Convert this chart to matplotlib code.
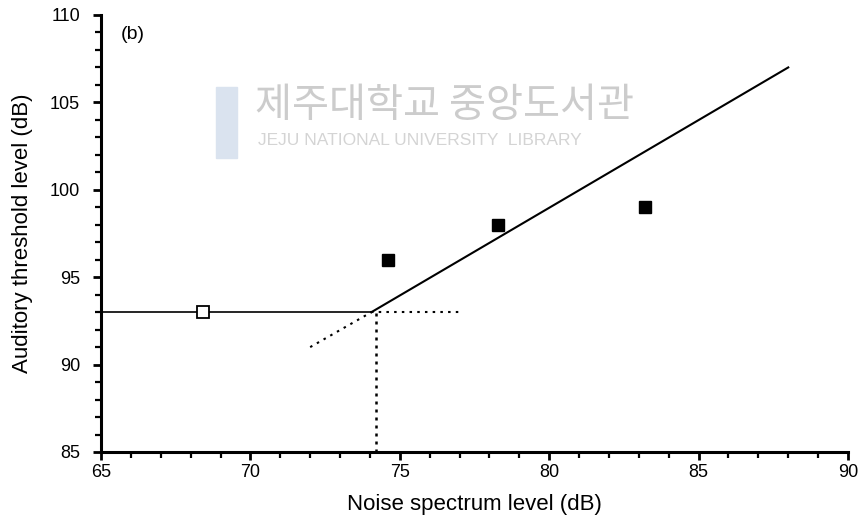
import matplotlib.pyplot as plt
from matplotlib.ticker import MultipleLocator

# measured thresholds
noise_open = [68.4]
thresh_open = [93]
noise_filled = [74.6, 78.3, 83.2]
thresh_filled = [96, 98, 99]

# fitted model: flat part, then slope 1 line
flat_x = [65, 74.05]
flat_y = [93, 93]
rise_x = [74.05, 88]
rise_y = [93, 107]
ext_x = [72, 74.05]
ext_y = [91, 93]
guide_h_x = [74.05, 77]
guide_h_y = [93, 93]
guide_v_x = [74.2, 74.2]
guide_v_y = [85, 93]

plt.rcParams['font.family'] = ['Liberation Sans', 'DejaVu Sans']

fig = plt.figure(figsize=(8.59, 5.26), dpi=100)
ax = fig.add_axes([0.1176, 0.1407, 0.8696, 0.8308])

# faint library watermark
fig.text(0.297, 0.80, "제주대학교 중앙도서관", family=['Noto Sans CJK KR', 'DejaVu Sans'],
         fontsize=29, color='#cccccc', va='center', ha='left', zorder=0)
fig.text(0.300, 0.733, "JEJU NATIONAL UNIVERSITY  LIBRARY", family=['Liberation Sans'],
         fontsize=12.5, color='#d4d4d4', va='center', ha='left', zorder=0)
fig.patches.append(plt.Rectangle((0.252, 0.70), 0.024, 0.135, transform=fig.transFigure,
                                 color='#dae3ef', zorder=0))

# lines
ax.plot(flat_x, flat_y, color='black', lw=1.2)
ax.plot(rise_x, rise_y, color='black', lw=1.5)
ax.plot(ext_x, ext_y, color='black', lw=1.5, ls=(0, (1.2, 2.5)))
ax.plot(guide_h_x, guide_h_y, color='black', lw=1.5, ls=(0, (1.2, 2.5)))
ax.plot(guide_v_x, guide_v_y, color='black', lw=1.8, ls=(0, (1.2, 2.0)))

# points
ax.plot(noise_open, thresh_open, 's', ms=8, mfc='white', mec='black', mew=1.3, zorder=5)
ax.plot(noise_filled, thresh_filled, 's', ms=8, mfc='black', mec='black', zorder=5)

ax.set_xlim(65, 90)
ax.set_ylim(85, 110)
ax.xaxis.set_major_locator(MultipleLocator(5))
ax.xaxis.set_minor_locator(MultipleLocator(1))
ax.yaxis.set_major_locator(MultipleLocator(5))
ax.yaxis.set_minor_locator(MultipleLocator(1))

for s in ['top', 'right']:
    ax.spines[s].set_visible(False)
for s in ['left', 'bottom']:
    ax.spines[s].set_linewidth(2.2)

ax.tick_params(which='major', direction='out', length=6, width=2, labelsize=13)
ax.tick_params(which='minor', direction='out', length=4, width=1.6)
ax.tick_params(axis='x', which='major', pad=3)
ax.tick_params(axis='y', which='major', pad=9)

ax.set_xlabel("Noise spectrum level (dB)", fontsize=16, labelpad=9)
ax.set_ylabel("Auditory threshold level (dB)", fontsize=16, labelpad=12)

ax.text(0.027, 0.975, "(b)", transform=ax.transAxes, fontsize=14, va='top', ha='left')

fig.savefig("out.png", dpi=100)
